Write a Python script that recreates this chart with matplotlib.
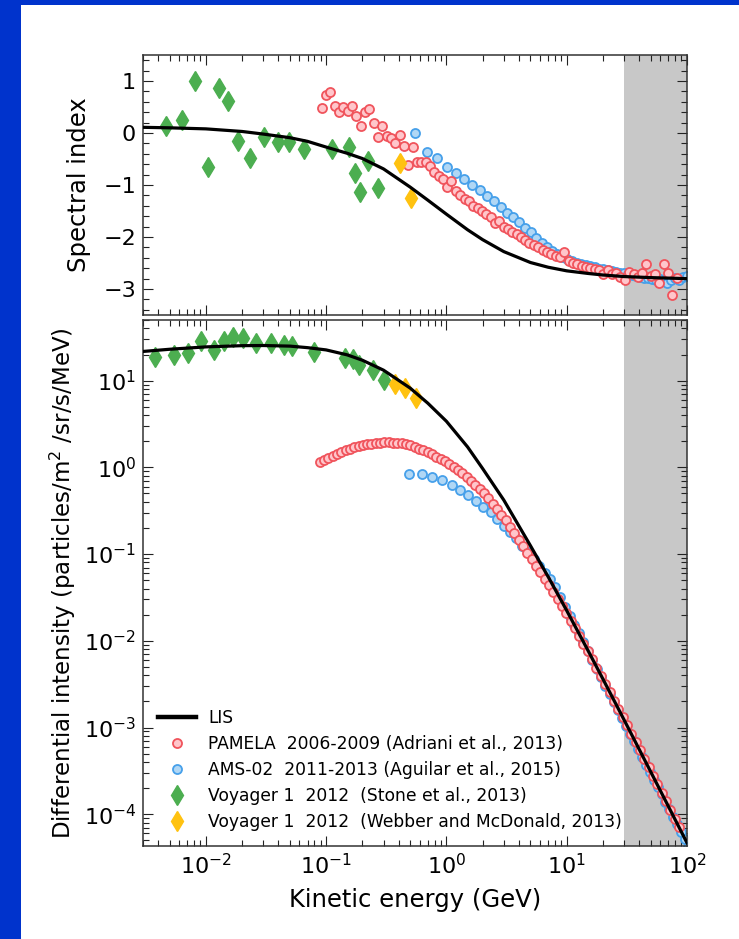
import numpy as np
import matplotlib
matplotlib.use('Agg')
import matplotlib.pyplot as plt
from matplotlib.ticker import AutoMinorLocator, FixedLocator
from matplotlib.patches import Rectangle

# ---- LIS model ----
lis_E = [0.003, 0.005, 0.01, 0.02, 0.03, 0.05, 0.07, 0.1, 0.15, 0.2, 0.3, 0.5, 0.7,
         1.0, 1.5, 2.0, 3.0, 5.0, 7.0, 10, 15, 20, 30, 50, 70, 100]
lis_flux = [21.7, 23.0, 24.5, 25.3, 25.4, 25.0, 24.0, 22.6, 19.8, 17.2, 13.2, 8.2, 5.5,
            3.4, 1.72, 0.97, 0.42, 0.125, 0.0551, 0.0224, 7.8e-3, 3.64e-3, 1.23e-3,
            3.09e-4, 1.24e-4, 4.7e-5]
lis_index = [0.11, 0.10, 0.08, 0.03, -0.02, -0.09, -0.16, -0.27, -0.39, -0.49, -0.69,
             -1.04, -1.29, -1.56, -1.86, -2.05, -2.28, -2.49, -2.58, -2.65, -2.70,
             -2.73, -2.76, -2.78, -2.79, -2.80]

# ---- PAMELA 2006-2009 ----
pam_E = [0.0881, 0.0957, 0.104, 0.113, 0.123, 0.133, 0.145, 0.157, 0.171, 0.186,
         0.202, 0.219, 0.238, 0.259, 0.281, 0.305, 0.332, 0.361, 0.392, 0.426,
         0.462, 0.502, 0.546, 0.593, 0.644, 0.700, 0.760, 0.826, 0.897, 0.975,
         1.06, 1.15, 1.25, 1.36, 1.48, 1.60, 1.74, 1.89, 2.06, 2.23,
         2.43, 2.64, 2.86, 3.11, 3.38, 3.67, 3.99, 4.34, 4.71, 5.12,
         5.56, 6.04, 6.56, 7.13, 7.74, 8.41, 9.14, 9.93, 10.8, 11.7,
         12.7, 13.8, 15.0, 16.3, 17.7, 19.3, 20.9, 22.8, 24.7, 26.9,
         29.2, 31.7, 34.4, 37.4, 40.6, 44.2, 48.0, 52.1, 56.6, 61.5,
         66.8, 72.6, 78.9, 85.7]
# log10 of the intensity
pam_log_flux = [0.061, 0.086, 0.111, 0.136, 0.157, 0.177, 0.197, 0.216, 0.229, 0.242,
                0.255, 0.266, 0.272, 0.277, 0.283, 0.289, 0.289, 0.286, 0.282, 0.279,
                0.274, 0.254, 0.235, 0.216, 0.196, 0.174, 0.149, 0.123, 0.098, 0.073,
                0.038, 0.003, -0.033, -0.069, -0.108, -0.155, -0.203, -0.250, -0.298, -0.357,
                -0.419, -0.481, -0.544, -0.608, -0.684, -0.759, -0.834, -0.909, -0.985, -1.060,
                -1.135, -1.210, -1.285, -1.360, -1.437, -1.515, -1.597, -1.678, -1.767, -1.856,
                -1.945, -2.034, -2.123, -2.215, -2.310, -2.405, -2.500, -2.595, -2.690, -2.785,
                -2.880, -2.975, -3.070, -3.165, -3.260, -3.360, -3.455, -3.555, -3.650, -3.750,
                -3.850, -3.950, -4.050, -4.150]
pam_E_idx = [0.0918, 0.0997, 0.108, 0.118, 0.128, 0.139, 0.151, 0.164, 0.178, 0.194,
             0.210, 0.229, 0.248, 0.270, 0.293, 0.318, 0.346, 0.376, 0.408, 0.443,
             0.482, 0.523, 0.569, 0.618, 0.671, 0.729, 0.792, 0.861, 0.935, 1.016,
             1.10, 1.20, 1.30, 1.42, 1.54, 1.67, 1.82, 1.97, 2.14, 2.33,
             2.53, 2.75, 2.99, 3.25, 3.53, 3.83, 4.16, 4.52, 4.91, 5.34,
             5.80, 6.30, 6.85, 7.44, 8.08, 8.78, 9.54, 10.4, 11.3, 12.2,
             13.3, 14.5, 15.7, 17.1, 18.5, 20.1, 21.9, 23.8, 25.8, 28.0,
             30.5, 33.1, 36.0, 39.1, 42.4, 46.1, 50.1, 54.4, 59.1, 64.2,
             69.8, 75.8, 82.3]
pam_index = [0.48, 0.74, 0.78, 0.52, 0.40, 0.50, 0.42, 0.52, 0.32, 0.14,
             0.41, 0.47, 0.20, -0.08, 0.14, -0.06, -0.09, -0.20, -0.03, -0.25,
             -0.62, -0.26, -0.55, -0.55, -0.56, -0.64, -0.74, -0.82, -0.88, -1.03,
             -0.93, -1.12, -1.20, -1.26, -1.31, -1.40, -1.45, -1.49, -1.55, -1.61,
             -1.73, -1.70, -1.80, -1.85, -1.90, -1.95, -2.00, -2.06, -2.12, -2.16,
             -2.20, -2.24, -2.28, -2.32, -2.36, -2.38, -2.29, -2.46, -2.50, -2.52,
             -2.55, -2.57, -2.59, -2.62, -2.63, -2.71, -2.64, -2.72, -2.70, -2.76,
             -2.82, -2.68, -2.72, -2.77, -2.70, -2.51, -2.74, -2.72, -2.89, -2.52,
             -2.70, -3.11, -2.78]

# ---- AMS-02 2011-2013 ----
ams_E = [0.492, 0.621, 0.764, 0.925, 1.105, 1.303, 1.523, 1.765, 2.034, 2.33,
         2.652, 3.005, 3.39, 3.81, 4.273, 4.774, 5.318, 5.907, 6.546, 7.236,
         7.981, 8.787, 9.654, 10.6, 11.6, 12.64, 13.79, 15.04, 16.39, 17.84,
         19.38, 21.03, 22.83, 24.78, 26.83, 29.03, 31.38, 33.87, 36.57, 39.47,
         42.57, 45.87, 49.42, 53.22, 57.27, 61.62, 66.32, 71.37, 76.77, 82.57,
         88.82, 95.57, 103.1]
ams_log_flux = [-0.073, -0.073, -0.107, -0.149, -0.207, -0.261, -0.322, -0.387, -0.452, -0.520,
                -0.598, -0.675, -0.744, -0.820, -0.905, -0.980, -1.060, -1.134, -1.220, -1.287,
                -1.380, -1.500, -1.610, -1.710, -1.815, -1.915, -2.015, -2.120, -2.225, -2.325,
                -2.420, -2.520, -2.615, -2.710, -2.800, -2.890, -2.980, -3.070, -3.160, -3.250,
                -3.340, -3.430, -3.510, -3.600, -3.685, -3.770, -3.860, -3.945, -4.030, -4.115,
                -4.200, -4.285, -4.375]
ams_E_idx = [0.553, 0.689, 0.841, 1.011, 1.20, 1.41, 1.64, 1.89, 2.18, 2.49,
             2.83, 3.20, 3.60, 4.03, 4.52, 5.04, 5.61, 6.22, 6.88, 7.60,
             8.37, 9.21, 10.1, 11.1, 12.1, 13.2, 14.4, 15.7, 17.1, 18.6,
             20.2, 21.9, 23.8, 25.8, 27.9, 30.2, 32.6, 35.2, 38.0, 41.0,
             44.2, 47.6, 51.3, 55.2, 59.4, 63.9, 68.8, 74.0, 79.6, 85.6,
             92.1, 99.3]
ams_index = [0.00, -0.36, -0.48, -0.66, -0.77, -0.89, -0.99, -1.10, -1.21, -1.31,
             -1.42, -1.53, -1.62, -1.72, -1.82, -1.91, -2.02, -2.12, -2.20, -2.27,
             -2.33, -2.39, -2.43, -2.46, -2.49, -2.51, -2.54, -2.56, -2.58, -2.61,
             -2.62, -2.64, -2.66, -2.67, -2.69, -2.70, -2.72, -2.73, -2.74, -2.76,
             -2.78, -2.79, -2.80, -2.82, -2.80, -2.85, -2.88, -2.83, -2.78, -2.82,
             -2.76, -2.74]

# ---- Voyager 1 2012 (Stone et al.) ----
voy_E = [0.00374, 0.0054, 0.0071, 0.0091, 0.0117, 0.0142, 0.0169, 0.0205, 0.0261,
         0.0351, 0.0444, 0.0524, 0.0796, 0.1436, 0.166, 0.188, 0.243, 0.303]
voy_flux = [18.7, 19.9, 21.1, 28.8, 22.7, 28.8, 31.8, 30.9, 27.1,
            27.5, 25.9, 24.8, 21.4, 18.2, 17.8, 15.3, 13.4, 10.3]
voy_E_idx = [0.0047, 0.0063, 0.0081, 0.0104, 0.0129, 0.0154, 0.0184, 0.0231, 0.0305,
             0.0396, 0.049, 0.066, 0.111, 0.154, 0.175, 0.193, 0.225, 0.272]
voy_index = [0.14, 0.26, 1.0, -0.65, 0.86, 0.61, -0.15, -0.48, -0.07,
             -0.18, -0.18, -0.31, -0.30, -0.26, -0.76, -1.13, -0.54, -1.06]

# ---- Voyager 1 2012 (Webber and McDonald) ----
wm_E = [0.374, 0.45, 0.561]
wm_flux = [9.2, 8.2, 6.3]
wm_E_idx = [0.41, 0.51]
wm_index = [-0.58, -1.25]

pam_style = dict(ls='none', marker='o', ms=6.5, mfc='#ffc6cb', mec='#f0545c', mew=1.3)
ams_style = dict(ls='none', marker='o', ms=6.5, mfc='#b0d7f5', mec='#46a0ea', mew=1.3)
voy_style = dict(ls='none', marker='d', ms=10, color='#4cae50', mec='#4cae50')
wm_style = dict(ls='none', marker='d', ms=10, color='#ffc210', mec='#ffc210')

fig = plt.figure(figsize=(7.39, 9.39), dpi=100, facecolor='#0033cc')
fig.patches.append(Rectangle((21 / 739, 0), 1 - 21 / 739, 1 - 5 / 939,
                             transform=fig.transFigure, facecolor='white',
                             edgecolor='none', zorder=-10))

ax1 = fig.add_axes([0.1935, 0.6645, 0.736, 0.2769])
ax2 = fig.add_axes([0.1935, 0.099, 0.736, 0.5602])

# top: spectral index
ax1.axvspan(30, 100, color='#c8c8c8', lw=0, zorder=0)
ax1.plot(ams_E_idx, ams_index, **ams_style, zorder=2)
ax1.plot(pam_E_idx, pam_index, **pam_style, zorder=3)
ax1.plot(voy_E_idx, voy_index, **voy_style, zorder=4)
ax1.plot(wm_E_idx, wm_index, **wm_style, zorder=4)
ax1.plot(lis_E, lis_index, color='black', lw=2.3, zorder=5)
ax1.set_xscale('log')
ax1.set_xlim(3e-3, 100)
ax1.set_ylim(-3.5, 1.5)
ax1.yaxis.set_major_locator(FixedLocator([-3, -2, -1, 0, 1]))
ax1.yaxis.set_minor_locator(AutoMinorLocator(5))
ax1.set_ylabel('Spectral index', fontsize=17.5, labelpad=9)
ax1.tick_params(labelbottom=False)

# bottom: differential intensity
ax2.axvspan(30, 100, color='#c8c8c8', lw=0, zorder=0)
ax2.plot(ams_E, 10 ** np.array(ams_log_flux), **ams_style, zorder=2,
         label='AMS-02  2011-2013 (Aguilar et al., 2015)')
ax2.plot(pam_E, 10 ** np.array(pam_log_flux), **pam_style, zorder=3,
         label='PAMELA  2006-2009 (Adriani et al., 2013)')
ax2.plot(voy_E, voy_flux, **voy_style, zorder=4,
         label='Voyager 1  2012  (Stone et al., 2013)')
ax2.plot(wm_E, wm_flux, **wm_style, zorder=4,
         label='Voyager 1  2012  (Webber and McDonald, 2013)')
ax2.plot(lis_E, lis_flux, color='black', lw=2.3, zorder=5, label='LIS')
ax2.set_xscale('log')
ax2.set_yscale('log')
ax2.set_xlim(3e-3, 100)
ax2.set_ylim(4.3e-5, 50)
ax2.set_xlabel('Kinetic energy (GeV)', fontsize=17.5, labelpad=7)
ax2.set_ylabel('Differential intensity (particles/m$^2$ /sr/s/MeV)', fontsize=16.5)

for ax in (ax1, ax2):
    ax.tick_params(which='both', direction='in', top=True, right=True,
                   labelsize=16, width=0.8, color='#222222', pad=5)
    ax.tick_params(which='major', length=7)
    ax.tick_params(which='minor', length=4)
    for s in ax.spines.values():
        s.set_linewidth(1.1)
        s.set_color('#333333')

h, l = ax2.get_legend_handles_labels()
order = [4, 1, 0, 2, 3]
leg = ax2.legend([h[i] for i in order], [l[i] for i in order], loc='lower left',
                 frameon=False, fontsize=12.3, handlelength=2.2, labelspacing=0.47,
                 handletextpad=0.7)
leg.get_lines()[0].set_linewidth(3.2)

fig.savefig('out.png', dpi=100, facecolor=fig.get_facecolor())
